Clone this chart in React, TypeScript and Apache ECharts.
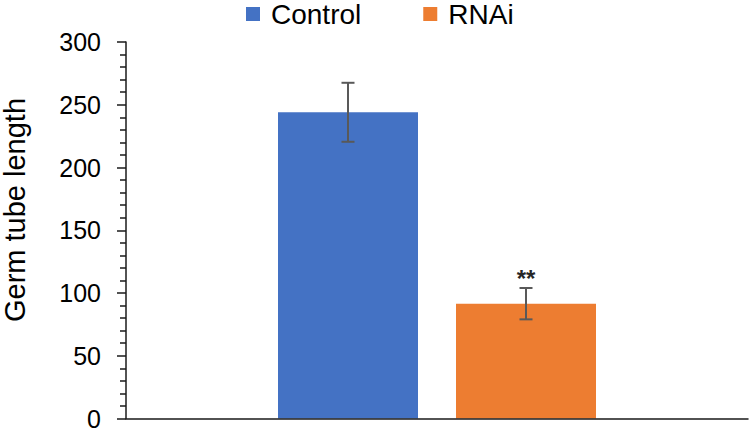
import React, { useEffect, useRef } from "react";
import * as echarts from "echarts";

// Germ tube length, mean ± SD per treatment
const groups = ["Control", "RNAi"];
const means = [244, 91.5];
const sds = [23.5, 12.5];
const significance = ["", "**"];
const colors = ["#4472C4", "#ED7D31"];
const yTicks = { min: 0, max: 300, interval: 50 };

const BAR_W = 140;
const BAR_GAP = 38;

export default function App() {
  const ref = useRef<HTMLDivElement>(null);

  useEffect(() => {
    document.body.style.margin = "0";
    const chart = echarts.init(ref.current!, undefined, { renderer: "svg" });

    const barSeries = groups.map((g, i) => ({
      name: g,
      type: "bar",
      data: [means[i]],
      barWidth: BAR_W,
      barGap: `${(BAR_GAP / BAR_W) * 100}%`,
      itemStyle: { color: colors[i] },
      z: 2,
    }));

    const errorSeries = groups.map((g, i) => ({
      type: "custom",
      name: g + " error",
      z: 5,
      data: [[0, means[i] - sds[i], means[i] + sds[i], i === 0 ? -1 : 1]],
      renderItem: (params: any, api: any) => {
        const offset = (api.value(3) * (BAR_W + BAR_GAP)) / 2;
        const lo = api.coord([api.value(0), api.value(1)]);
        const hi = api.coord([api.value(0), api.value(2)]);
        const x = lo[0] + offset;
        const cap = 6.5;
        const style = { stroke: "#595959", lineWidth: 2 };
        const children: any[] = [
          { type: "line", shape: { x1: x, y1: lo[1], x2: x, y2: hi[1] }, style },
          { type: "line", shape: { x1: x - cap, y1: lo[1], x2: x + cap, y2: lo[1] }, style },
          { type: "line", shape: { x1: x - cap, y1: hi[1], x2: x + cap, y2: hi[1] }, style },
        ];
        if (significance[i]) {
          children.push({
            type: "text",
            style: {
              x: x,
              y: hi[1] + 3,
              text: significance[i],
              fill: "#262626",
              font: "bold 24px 'Liberation Sans', Arial, sans-serif",
              align: "center",
              verticalAlign: "bottom",
            },
          });
        }
        return { type: "group", children };
      },
    }));

    chart.setOption({
      animation: false,
      backgroundColor: "#ffffff",
      textStyle: { fontFamily: "'Liberation Sans', Arial, sans-serif" },
      legend: {
        data: groups,
        left: 246,
        top: 0,
        padding: 0,
        itemGap: 62,
        itemWidth: 14,
        itemHeight: 14,
        icon: "rect",
        textStyle: {
          fontSize: 28,
          color: "#000",
          padding: [0, 0, 0, 6],
          fontFamily: "'Liberation Sans', Arial, sans-serif",
        },
      },
      grid: { left: 126, right: 2, top: 42, bottom: 9, containLabel: false },
      xAxis: {
        type: "category",
        data: [""],
        axisLine: { show: true, lineStyle: { color: "#1a1a1a", width: 1.5 } },
        axisTick: { show: false },
        axisLabel: { show: false },
        splitLine: { show: false },
        z: 10,
      },
      yAxis: {
        type: "value",
        min: yTicks.min,
        max: yTicks.max,
        interval: yTicks.interval,
        axisLine: { show: true, lineStyle: { color: "#1a1a1a", width: 1.5 } },
        axisTick: { show: true, length: 9, lineStyle: { color: "#1a1a1a", width: 1.5 } },
        minorTick: { show: true, splitNumber: 5, length: 6, lineStyle: { color: "#1a1a1a", width: 1.5 } },
        axisLabel: {
          margin: 25,
          fontSize: 25,
          color: "#000",
          fontFamily: "'Liberation Sans', Arial, sans-serif",
        },
        splitLine: { show: false },
      },
      graphic: [
        {
          type: "text",
          x: 15,
          y: 210,
          rotation: Math.PI / 2,
          style: {
            text: "Germ tube length",
            font: "29px 'Liberation Sans', Arial, sans-serif",
            fill: "#000",
            align: "center",
            verticalAlign: "middle",
          },
        },
      ],
      series: [...barSeries, ...errorSeries],
    });

    return () => chart.dispose();
  }, []);

  return (
    <div
      ref={ref}
      style={{ position: "absolute", left: 0, top: 0, width: 750, height: 431 }}
    />
  );
}
